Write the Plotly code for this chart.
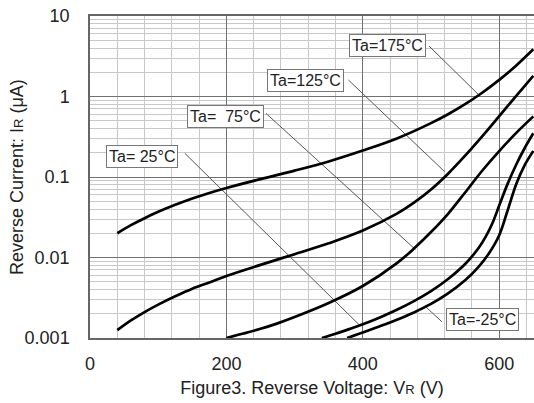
import plotly.graph_objects as go

# Reverse current vs reverse voltage at five ambient temperatures
volts_175 = [40, 60, 80, 100, 125, 150, 175, 200, 250, 300, 350, 400, 450, 500, 525, 550, 575, 600, 625, 650]
ir_175 = [0.0200, 0.0252, 0.0308, 0.0369, 0.0451, 0.0540, 0.0634, 0.0731, 0.0942, 0.120, 0.156, 0.213,
          0.301, 0.467, 0.602, 0.802, 1.114, 1.609, 2.43, 3.86]

volts_125 = [40, 60, 80, 100, 125, 150, 175, 200, 250, 300, 350, 400, 450, 475, 500, 525, 550, 575, 600, 625, 650]
ir_125 = [0.00125, 0.00165, 0.0021, 0.0026, 0.0033, 0.0041, 0.0049, 0.0059, 0.0081, 0.011, 0.015, 0.0216,
          0.035, 0.048, 0.070, 0.11, 0.184, 0.32, 0.57, 1.02, 1.81]

volts_75 = [200, 225, 250, 275, 300, 350, 400, 450, 475, 500, 525, 550, 575, 600, 625, 650]
ir_75 = [0.001, 0.001135, 0.0013, 0.00152, 0.00182, 0.00272, 0.00442, 0.00851, 0.0129, 0.0207, 0.0349,
         0.0642, 0.1196, 0.210, 0.353, 0.566]

volts_25 = [340, 360, 380, 400, 425, 450, 475, 500, 525, 550, 570, 580, 590, 600, 612, 625, 637, 650]
ir_25 = [0.001, 0.00113, 0.00129, 0.00148, 0.0018, 0.00224, 0.00287, 0.00382, 0.0054, 0.0083, 0.0132,
         0.018, 0.0266, 0.0442, 0.081, 0.143, 0.226, 0.349]

volts_m25 = [377, 400, 425, 450, 475, 500, 525, 550, 570, 585, 600, 612, 625, 637, 650]
ir_m25 = [0.001, 0.00117, 0.0014, 0.00169, 0.00208, 0.00265, 0.00358, 0.0052, 0.0077, 0.01126, 0.0189,
          0.0377, 0.0821, 0.1388, 0.211]

series = [
    (volts_175, ir_175),
    (volts_125, ir_125),
    (volts_75, ir_75),
    (volts_25, ir_25),
    (volts_m25, ir_m25),
]

# Temperature labels: text, box centre (V, log10 µA), leader start and end (V, µA)
label_text = ["Ta=175°C", "Ta=125°C", "Ta=\u00a0\u00a075°C", "Ta=\u00a025°C", "Ta=-25°C"]
label_x = [436, 316, 199, 76, 575]
label_logy = [0.637, 0.193, -0.251, -0.748, -2.770]
leader_x0 = [497, 379, 258, 139, 516]
leader_y0 = [4.24, 1.60, 0.618, 0.197, 0.00159]
leader_x1 = [572, 520, 477, 395, 492]
leader_y1 = [1.01, 0.1165, 0.0126, 0.00145, 0.00245]

y_tickvals = [0.001, 0.01, 0.1, 1, 10]
y_ticktext = ["0.001", "0.01", "0.1", "1", "10"]
x_tickvals = [0, 200, 400, 600]

FONT = "Liberation Sans, Arial, sans-serif"
INK = "#222222"

fig = go.Figure()

for x0, y0, x1, y1 in zip(leader_x0, leader_y0, leader_x1, leader_y1):
    fig.add_trace(go.Scatter(
        x=[x0, x1], y=[y0, y1], mode="lines",
        line=dict(color="#555555", width=1),
        hoverinfo="skip", showlegend=False,
    ))

for vx, iy in series:
    fig.add_trace(go.Scatter(
        x=vx, y=iy, mode="lines",
        line=dict(color="#000000", width=2.7, shape="spline", smoothing=1.0),
        showlegend=False,
    ))

for txt, lx, ly in zip(label_text, label_x, label_logy):
    fig.add_annotation(
        x=lx, y=ly, xref="x", yref="y", text=txt, showarrow=False,
        font=dict(family=FONT, size=16, color=INK),
        bgcolor="#ffffff", bordercolor="#777777", borderwidth=1, borderpad=2,
        xanchor="center", yanchor="middle",
    )

# Y-axis title placed as a rotated annotation
fig.add_annotation(
    xref="paper", yref="paper", x=0, y=0.5, xshift=-73,
    text="Reverse Current: I<span style='font-size:13px'>R</span> (μA)",
    textangle=-90, showarrow=False,
    font=dict(family=FONT, size=18, color=INK),
    xanchor="center", yanchor="middle",
)

fig.update_layout(
    width=534, height=403,
    margin=dict(l=90, r=0, t=16, b=65),
    paper_bgcolor="#ffffff", plot_bgcolor="#ffffff",
    font=dict(family=FONT, color=INK),
    xaxis=dict(
        range=[0, 651], tickvals=x_tickvals, ticks="",
        tickfont=dict(family=FONT, size=18, color=INK),
        ticklabelstandoff=9,
        showgrid=True, gridcolor="#707070", gridwidth=1,
        minor=dict(dtick=40, showgrid=True, gridcolor="#c8c8c8", gridwidth=1, ticks=""),
        showline=True, linecolor="#666666", linewidth=1.5, mirror=True,
        zeroline=False,
        title=dict(
            text="Figure3. Reverse Voltage: V<span style='font-size:13px'>R</span> (V)",
            font=dict(family=FONT, size=18, color=INK), standoff=8,
        ),
    ),
    yaxis=dict(
        type="log", range=[-3, 1],
        tickvals=y_tickvals, ticktext=y_ticktext, ticks="",
        tickfont=dict(family=FONT, size=18, color=INK),
        ticklabelstandoff=15,
        showgrid=True, gridcolor="#707070", gridwidth=1,
        minor=dict(dtick="D1", showgrid=True, gridcolor="#c8c8c8", gridwidth=1, ticks=""),
        showline=True, linecolor="#666666", linewidth=1.5, mirror=False,
        zeroline=False,
    ),
)

fig.write_html("out.html")
